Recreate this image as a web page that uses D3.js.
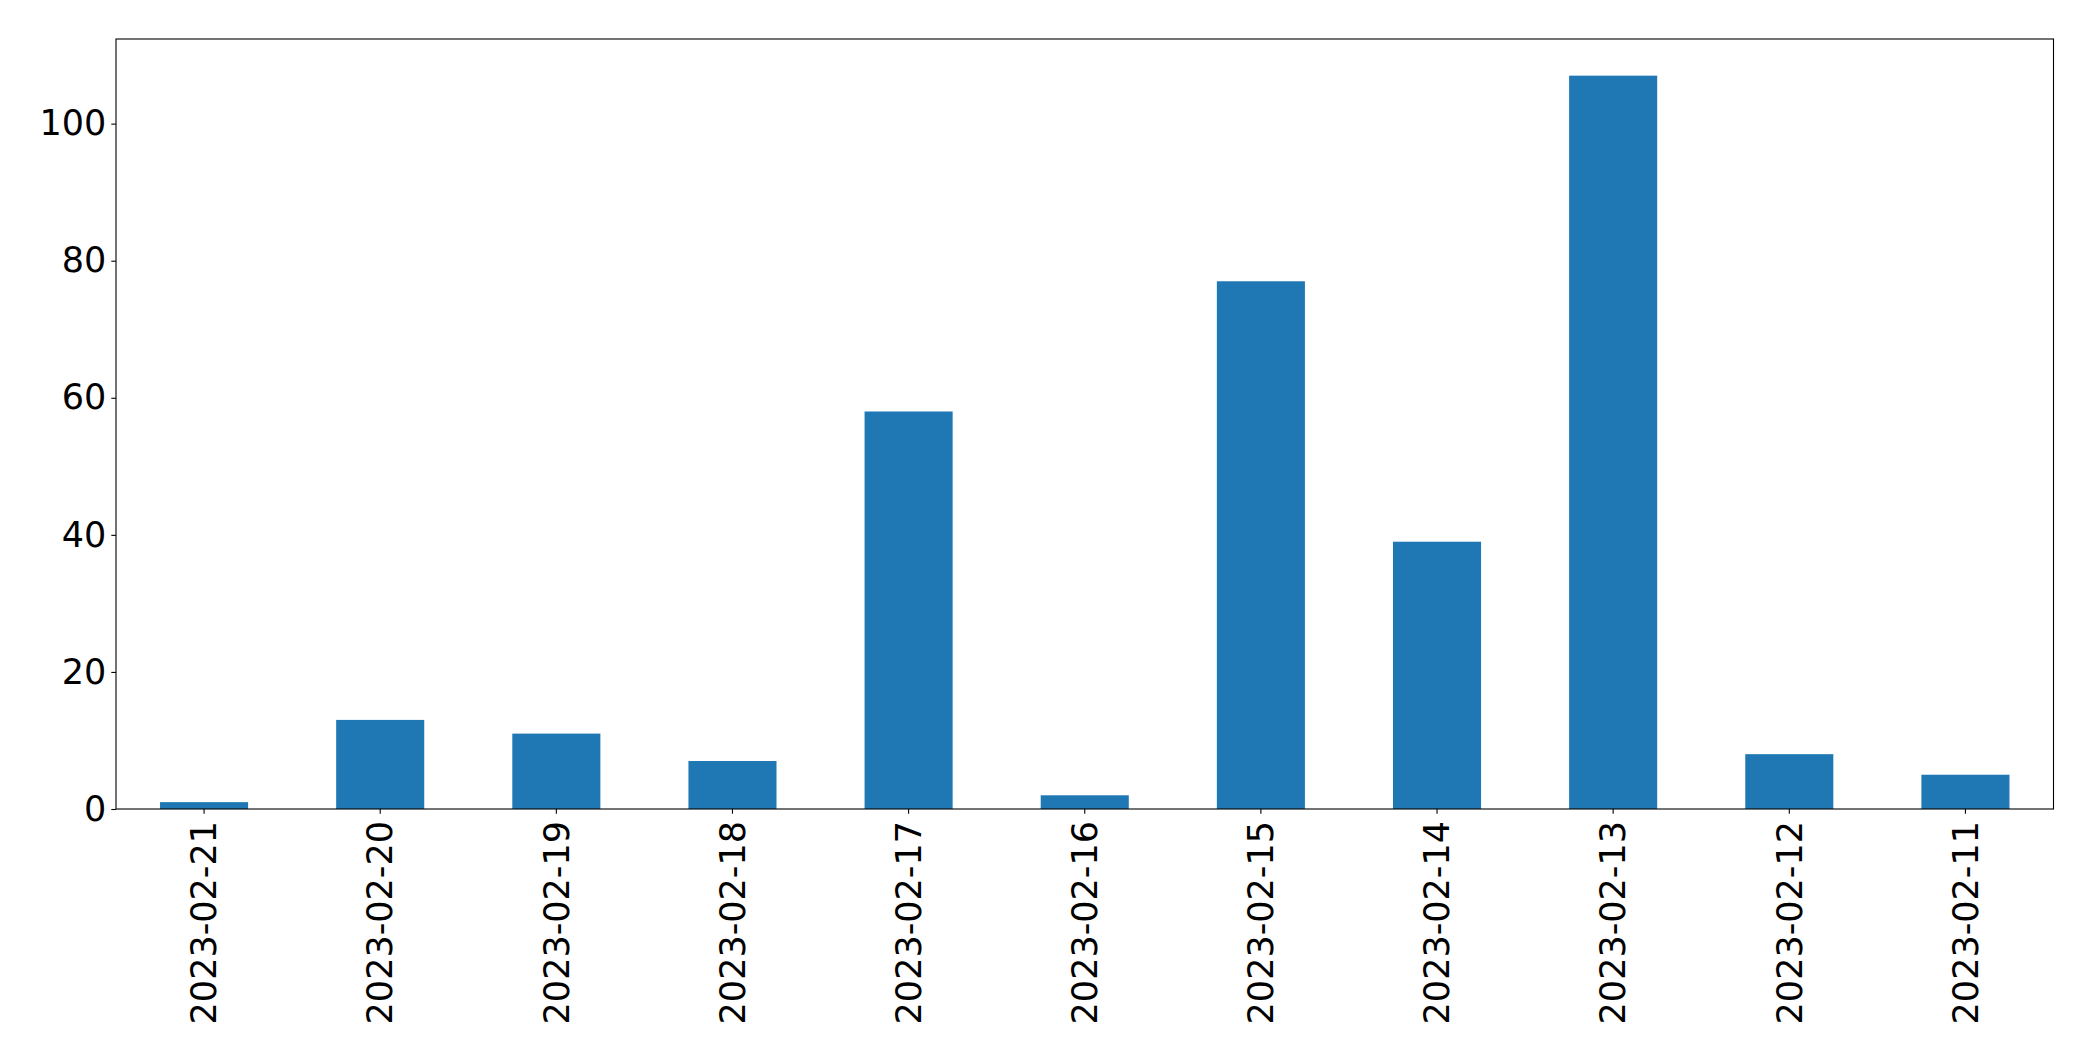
<!DOCTYPE html>
<html><head><meta charset="utf-8">
<script src="https://cdn.jsdelivr.net/npm/d3@7"></script>
<style>html,body{margin:0;padding:0;background:#fff;}svg{display:block;}</style>
</head><body>
<script>
const categories = ["2023-02-21","2023-02-20","2023-02-19","2023-02-18","2023-02-17","2023-02-16","2023-02-15","2023-02-14","2023-02-13","2023-02-12","2023-02-11"];
const values = [1, 13, 11, 7, 58, 2, 77, 39, 107, 8, 5];
const yTicks = [0, 20, 40, 60, 80, 100];

const W = 2093, H = 1061;
const m = {left: 116, right: W - 2053.5, top: 39, bottom: H - 809};
const fontSize = 35;
const svg = d3.select("body").append("svg").attr("width", W).attr("height", H);

const x = d3.scaleBand().domain(categories).range([m.left, W - m.right]).paddingInner(0.5).paddingOuter(0.25);
const y = d3.scaleLinear().domain([0, d3.max(values) * 1.05]).range([H - m.bottom, m.top]);

svg.append("g").selectAll("rect").data(values).join("rect")
  .attr("x", (d, i) => x(categories[i]))
  .attr("width", x.bandwidth())
  .attr("y", d => y(d))
  .attr("height", d => y(0) - y(d))
  .attr("fill", "#1f77b4");

const font = "'DejaVu Sans', sans-serif";

const yAxis = svg.append("g").attr("transform", `translate(${m.left},0)`)
  .call(d3.axisLeft(y).tickValues(yTicks).tickSize(4.7).tickPadding(5).tickFormat(d3.format("d")));
yAxis.select(".domain").remove();
yAxis.selectAll("line").attr("stroke", "#000").attr("stroke-width", 1.1);
yAxis.selectAll("text").attr("font-family", font).attr("font-size", fontSize).attr("fill", "#000");

const xAxis = svg.append("g").attr("transform", `translate(0,${H - m.bottom})`)
  .call(d3.axisBottom(x).tickSize(4.7).tickPadding(5));
xAxis.select(".domain").remove();
xAxis.selectAll("line").attr("stroke", "#000").attr("stroke-width", 1.1);
xAxis.selectAll("text")
  .attr("font-family", font).attr("font-size", fontSize).attr("fill", "#000")
  .attr("transform", "rotate(-90)")
  .attr("x", -12).attr("y", 0).attr("dy", "0.35em")
  .attr("text-anchor", "end");

svg.append("rect")
  .attr("x", m.left).attr("y", m.top)
  .attr("width", W - m.right - m.left).attr("height", H - m.bottom - m.top)
  .attr("fill", "none").attr("stroke", "#000").attr("stroke-width", 1.1);
</script>
</body></html>
